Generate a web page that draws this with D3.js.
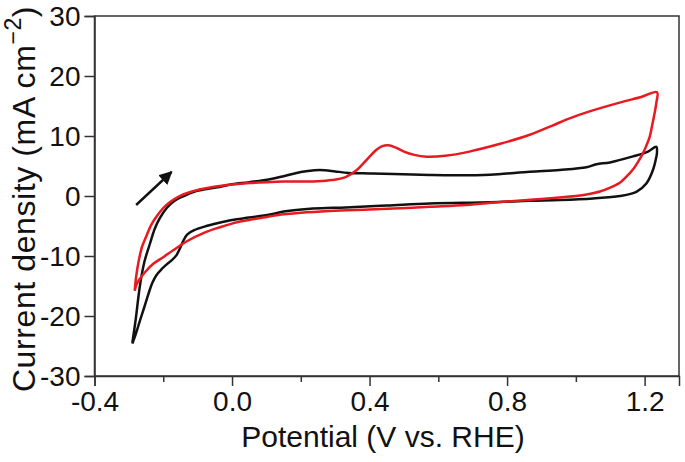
<!DOCTYPE html>
<html>
<head>
<meta charset="utf-8">
<script src="https://cdn.jsdelivr.net/npm/d3@7"></script>
<style>
  html, body { margin: 0; padding: 0; background: #fff; }
  svg { display: block; }
  text { font-family: "Liberation Sans", Arial, Helvetica, sans-serif; fill: #111; }
</style>
</head>
<body>
<svg id="chart" width="685" height="462"></svg>
<script>
// ---- data (potential V vs RHE, current density mA cm^-2) ----
const blackV = [
  -0.290, -0.280, -0.268, -0.255, -0.239, -0.225, -0.210, -0.190, -0.170, -0.140,
  -0.110, -0.070, -0.030, 0.000, 0.050, 0.110, 0.150, 0.200, 0.240, 0.270,
  0.300, 0.340, 0.400, 0.470, 0.575, 0.650, 0.750, 0.866, 0.953, 1.031,
  1.060, 1.099, 1.166, 1.210, 1.234,
  1.236, 1.234, 1.224, 1.205, 1.176, 1.128, 1.050, 0.953, 0.866, 0.750,
  0.575, 0.450, 0.330, 0.236, 0.150, 0.110, 0.050, 0.000, -0.040, -0.080,
  -0.110, -0.130, -0.142, -0.152, -0.162, -0.175, -0.190, -0.205, -0.220, -0.232,
  -0.243, -0.255, -0.268, -0.280, -0.290
];
const blackJ = [
  -24.5, -20.5, -15.0, -11.0, -8.0, -5.5, -3.7, -2.0, -0.9, 0.0,
  0.7, 1.2, 1.6, 1.95, 2.3, 2.8, 3.3, 4.0, 4.3, 4.3,
  4.1, 3.85, 3.75, 3.65, 3.5, 3.45, 3.55, 4.05, 4.35, 4.8,
  5.3, 5.6, 6.6, 7.4, 8.2,
  7.3, 6.5, 4.3, 2.1, 0.7, 0.0, -0.4, -0.67, -0.8, -1.05,
  -1.25, -1.6, -1.9, -2.1, -2.6, -3.1, -3.6, -4.0, -4.5, -5.1,
  -5.7, -6.4, -7.5, -8.8, -9.9, -10.7, -11.4, -12.2, -13.2, -14.5,
  -16.3, -18.5, -20.8, -23.0, -24.6
];
const redV = [
  -0.283, -0.279, -0.272, -0.262, -0.250, -0.235, -0.218, -0.200, -0.180, -0.155,
  -0.130, -0.100, -0.060, -0.030, 0.000, 0.050, 0.100, 0.150, 0.200, 0.250,
  0.290, 0.330, 0.360, 0.380, 0.400, 0.420, 0.437, 0.455, 0.475, 0.500,
  0.530, 0.566, 0.620, 0.690, 0.780, 0.866, 0.930, 0.980, 1.040, 1.130,
  1.190, 1.236,
  1.234, 1.229, 1.222, 1.215, 1.205, 1.195, 1.180, 1.166, 1.145, 1.128,
  1.100, 1.070, 1.035, 1.000, 0.960, 0.900, 0.850, 0.780, 0.680, 0.575,
  0.490, 0.400, 0.284, 0.200, 0.130, 0.090, 0.040, 0.000, -0.035, -0.080,
  -0.130, -0.170, -0.200, -0.229, -0.250, -0.268, -0.278, -0.283
];
const redJ = [
  -15.8, -13.5, -11.0, -8.5, -6.8, -4.8, -3.3, -2.0, -1.0, -0.1,
  0.5, 1.0, 1.45, 1.7, 1.9, 2.15, 2.3, 2.4, 2.4, 2.45,
  2.65, 3.15, 4.2, 5.3, 6.55, 7.7, 8.3, 8.45, 8.1, 7.4,
  6.85, 6.55, 6.7, 7.4, 8.7, 10.2, 11.7, 12.9, 14.1, 15.6,
  16.5, 17.3,
  15.5, 13.8, 11.8, 9.9, 8.4, 7.1, 5.6, 4.4, 3.1, 2.2,
  1.4, 0.75, 0.3, 0.0, -0.2, -0.5, -0.7, -1.0, -1.5, -1.8,
  -2.05, -2.25, -2.5, -2.8, -3.2, -3.6, -4.1, -4.6, -5.2, -6.1,
  -7.5, -9.0, -10.2, -11.3, -12.5, -13.8, -14.8, -15.8
];
const xTicks = [-0.4, 0.0, 0.4, 0.8, 1.2];
const xMinorTicks = [-0.2, 0.2, 0.6, 1.0];
const yTicks = [-30, -20, -10, 0, 10, 20, 30];
const arrowV = [-0.279, -0.176];
const arrowJ = [-1.5, 4.0];
const xTitle = "Potential (V vs. RHE)";
const yTitleMain = "Current density (mA cm";
const yTitleSup = "\u22122";
const yTitleEnd = ")";

// ---- layout ----
const svg = d3.select("#chart");
const L = 94.5, R = 679, T = 16, B = 376;
const x = d3.scaleLinear().domain([-0.4, 1.3]).range([L, R]);
const y = d3.scaleLinear().domain([-30, 30]).range([B, T]);

// curves
const line = d3.line().x(d => x(d[0])).y(d => y(d[1])).curve(d3.curveCatmullRom.alpha(0.5));
const blackData = blackV.map((v, i) => [v, blackJ[i]]);
const redData = redV.map((v, i) => [v, redJ[i]]);

svg.append("path").datum(blackData).attr("d", line)
  .attr("fill", "none").attr("stroke", "#111").attr("stroke-width", 2.5)
  .attr("stroke-linejoin", "round");
svg.append("path").datum(redData).attr("d", line)
  .attr("fill", "none").attr("stroke", "#e8191f").attr("stroke-width", 2.5)
  .attr("stroke-linejoin", "round");

// axes
const axisColor = "#333";
const xAxis = svg.append("g").attr("transform", `translate(0,${B})`)
  .call(d3.axisBottom(x).tickValues(xTicks).tickFormat(d3.format(".1f")).tickSize(10).tickPadding(5));
const xMinor = svg.append("g").attr("transform", `translate(0,${B})`)
  .call(d3.axisBottom(x).tickValues(xMinorTicks).tickFormat("").tickSize(6));
xMinor.select(".domain").remove();
const yAxis = svg.append("g").attr("transform", `translate(${L},0)`)
  .call(d3.axisLeft(y).tickValues(yTicks).tickFormat(d3.format("d")).tickSize(10).tickPadding(4));

[xAxis, xMinor, yAxis].forEach(g => {
  g.selectAll("line").attr("stroke", axisColor).attr("stroke-width", 1.5);
  g.selectAll(".domain").attr("stroke", axisColor).attr("stroke-width", 1.5);
  g.selectAll("text").attr("font-size", 28).attr("fill", "#111")
    .style("font-family", '"Liberation Sans", Arial, sans-serif');
});
xAxis.selectAll("text").text(d => d3.format(".1f")(d).replace("\u2212", "-"));
yAxis.selectAll("text").text(d => String(d)).attr("dy", "0.35em");

// frame
svg.append("rect").attr("x", L).attr("y", T).attr("width", R - L).attr("height", B - T)
  .attr("fill", "none").attr("stroke", axisColor).attr("stroke-width", 1.5);

// arrow
svg.append("defs").append("marker")
  .attr("id", "ah").attr("viewBox", "0 0 10 10").attr("refX", 9).attr("refY", 5)
  .attr("markerWidth", 5.5).attr("markerHeight", 5.5).attr("orient", "auto")
  .attr("markerUnits", "strokeWidth")
  .append("path").attr("d", "M0,0 L10,5 L0,10 z").attr("fill", "#111");
svg.append("line")
  .attr("x1", x(arrowV[0])).attr("y1", y(arrowJ[0]))
  .attr("x2", x(arrowV[1])).attr("y2", y(arrowJ[1]))
  .attr("stroke", "#111").attr("stroke-width", 2.4).attr("marker-end", "url(#ah)");

// titles
svg.append("text").attr("x", 383).attr("y", 447)
  .attr("text-anchor", "middle").attr("font-size", 30).text(xTitle);

const yt = svg.append("text").attr("transform", "translate(35,199) rotate(-90)")
  .attr("text-anchor", "middle").attr("font-size", 32).attr("letter-spacing", 0.6);
yt.append("tspan").text(yTitleMain);
yt.append("tspan").attr("dy", -14).attr("font-size", 23).text(yTitleSup);
yt.append("tspan").attr("dy", 14).text(yTitleEnd);
</script>
</body>
</html>
